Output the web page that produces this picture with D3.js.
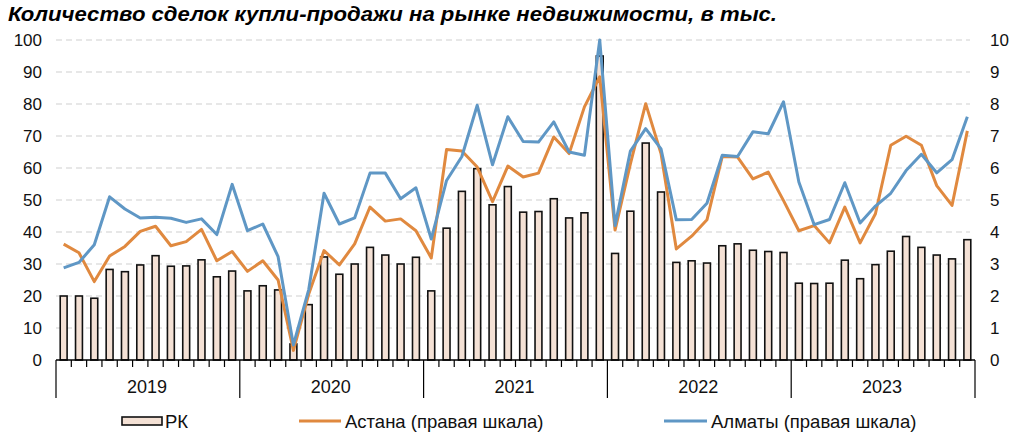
<!DOCTYPE html>
<html><head><meta charset="utf-8">
<script src="https://cdn.jsdelivr.net/npm/d3@7"></script>
<style>
body{margin:0;background:#fff;}
text{font-family:"Liberation Sans",Arial,sans-serif;}
</style></head>
<body><svg id="c" width="1012" height="436"></svg>
<script>
const years = ["2019","2020","2021","2022","2023"];
const leftTicks = [0,10,20,30,40,50,60,70,80,90,100];
const rightTicks = [0,1,2,3,4,5,6,7,8,9,10];
const rk = [20,20,19.3,28.3,27.6,29.7,32.6,29.3,29.4,31.3,26,27.8,
  21.6,23.2,21.9,5,17.3,32.2,26.8,30,35.2,32.8,30,32.1,
  21.6,41.2,52.7,59.8,48.5,54.2,46.2,46.4,50.4,44.4,46.0,95,
  33.3,46.5,67.8,52.5,30.5,31.0,30.3,35.7,36.3,34.3,33.9,33.6,
  24.0,23.9,24.0,31.2,25.4,29.8,34.0,38.6,35.2,32.8,31.6,37.6];
const astana = [3.62,3.35,2.45,3.25,3.55,4.02,4.18,3.57,3.70,4.08,3.10,3.39,
  2.77,3.10,2.50,0.30,2.06,3.42,2.97,3.63,4.78,4.34,4.41,4.04,
  3.19,6.58,6.53,6.03,4.95,6.06,5.72,5.84,6.97,6.45,7.91,8.85,
  4.06,6.13,8.01,6.45,3.47,3.87,4.38,6.36,6.34,5.66,5.87,4.98,
  4.04,4.2,3.66,4.78,3.66,4.57,6.71,6.99,6.71,5.45,4.83,7.16];
const almaty = [2.88,3.05,3.6,5.1,4.72,4.44,4.46,4.43,4.3,4.41,3.92,5.49,
  4.04,4.25,3.23,0.47,2.2,5.21,4.25,4.44,5.84,5.84,5.04,5.38,
  3.78,5.61,6.36,7.96,6.10,7.6,6.83,6.81,7.44,6.5,6.4,10.0,
  4.2,6.53,7.23,6.6,4.38,4.39,4.9,6.4,6.36,7.13,7.07,8.07,
  5.56,4.23,4.39,5.54,4.28,4.81,5.21,5.92,6.43,5.85,6.26,7.6];
const seriesNames = ["РК","Астана (правая шкала)","Алматы (правая шкала)"];
const title = "Количество сделок купли-продажи на рынке недвижимости, в тыс.";

const svg = d3.select("#c");
const L = 56, R = 975, T = 40, B = 360;
const months = d3.range(rk.length);
const x = d3.scaleBand().domain(months).range([L, R]).paddingInner(0.55).paddingOuter(0.275);
const xs = d3.scaleLinear().domain([0, rk.length]).range([L, R]);
const yL = d3.scaleLinear().domain([0,100]).range([B, T]);
const yR = d3.scaleLinear().domain([0,10]).range([B, T]);

svg.append("text").attr("x",8).attr("y",21).attr("font-size",21).attr("font-weight","bold")
  .attr("font-style","italic").attr("fill","#000")
  .attr("textLength",769).attr("lengthAdjust","spacingAndGlyphs").text(title);

// gridlines
svg.append("g").selectAll("line").data(leftTicks.filter(d=>d>0)).join("line")
  .attr("x1",L).attr("x2",970).attr("y1",d=>yL(d)).attr("y2",d=>yL(d))
  .attr("stroke","#cfcfcf").attr("stroke-width",1.2).attr("stroke-dasharray","6,4");

// left axis
const gl = svg.append("g").attr("transform",`translate(${L},0)`)
  .call(d3.axisLeft(yL).tickValues(leftTicks).tickSize(0).tickPadding(14));
gl.select(".domain").remove();
gl.selectAll("text").attr("font-size",17).attr("fill","#111").attr("font-family","Liberation Sans, Arial");
// right axis
const gr = svg.append("g").attr("transform",`translate(${R},0)`)
  .call(d3.axisRight(yR).tickValues(rightTicks).tickSize(0).tickPadding(15));
gr.select(".domain").remove();
gr.selectAll("text").attr("font-size",17).attr("fill","#111").attr("font-family","Liberation Sans, Arial");

// bars
svg.append("g").selectAll("rect").data(rk).join("rect")
  .attr("x",(d,i)=>x(i)).attr("width",x.bandwidth())
  .attr("y",d=>yL(d)).attr("height",d=>B-yL(d))
  .attr("fill","#f4e1d5").attr("stroke","#111").attr("stroke-width",1.6);

// lines
const lineA = d3.line().x((d,i)=>x(i)+x.bandwidth()/2).y(d=>yR(d));
svg.append("path").datum(astana).attr("d",lineA).attr("fill","none")
  .attr("stroke","#e0893f").attr("stroke-width",3).attr("stroke-linejoin","round");
svg.append("path").datum(almaty).attr("d",lineA).attr("fill","none")
  .attr("stroke","#5f97c5").attr("stroke-width",3).attr("stroke-linejoin","round");

// x axis
svg.append("line").attr("x1",L).attr("x2",R).attr("y1",B).attr("y2",B).attr("stroke","#000").attr("stroke-width",1.3);
svg.append("g").selectAll("line").data(d3.range(rk.length+1)).join("line")
  .attr("x1",d=>xs(d)).attr("x2",d=>xs(d)).attr("y1",B)
  .attr("y2",d=>d%12===0?398:367).attr("stroke","#000").attr("stroke-width",1.2);
svg.append("g").selectAll("text").data(years).join("text")
  .attr("x",(d,i)=>xs(i*12+6)-1).attr("y",393).attr("text-anchor","middle")
  .attr("font-size",18).attr("fill","#111").text(d=>d);

// legend
const lg = svg.append("g");
lg.append("rect").attr("x",122).attr("y",417).attr("width",40).attr("height",8)
  .attr("fill","#f4e1d5").attr("stroke","#111").attr("stroke-width",1.6);
lg.append("text").attr("x",165).attr("y",428).attr("font-size",18.5).attr("fill","#111").text(seriesNames[0]);
lg.append("line").attr("x1",299).attr("x2",341).attr("y1",421).attr("y2",421).attr("stroke","#e0893f").attr("stroke-width",3);
lg.append("text").attr("x",345).attr("y",428).attr("font-size",18.5).attr("fill","#111").text(seriesNames[1]);
lg.append("line").attr("x1",664).attr("x2",707).attr("y1",421).attr("y2",421).attr("stroke","#5f97c5").attr("stroke-width",3);
lg.append("text").attr("x",711).attr("y",428).attr("font-size",18.5).attr("fill","#111").text(seriesNames[2]);
</script></body></html>
